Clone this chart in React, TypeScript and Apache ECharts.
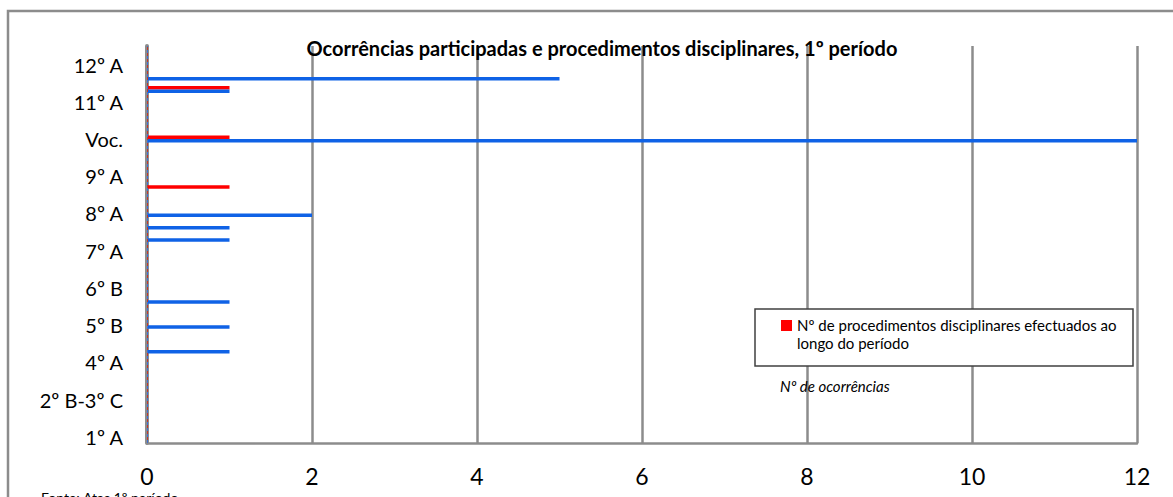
import React, { useEffect, useRef } from "react";
import * as echarts from "echarts";

// 32 category slots (bottom to top); only every third carries a label
const slotLabels = [
  "1º A", "", "", "2º B-3º C", "", "", "4º A", "", "", "5º B", "", "",
  "6º B", "", "", "7º A", "", "", "8º A", "", "", "9º A", "", "",
  "Voc.", "", "", "11º A", "", "", "12º A", "",
];

// Nº de ocorrências (blue)
const ocorrencias = [
  0, 0, 0, 0, 0, 0, 0, 1, 0, 1, 0, 1,
  0, 0, 0, 0, 1, 1, 2, 0, 0, 0, 0, 0,
  12, 0, 0, 0, 1, 5, 0, 0,
];

// Nº de procedimentos disciplinares (red)
const procedimentos = [
  0, 0, 0, 0, 0, 0, 0, 0, 0, 0, 0, 0,
  0, 0, 0, 0, 0, 0, 0, 0, 1, 0, 0, 0,
  1, 0, 0, 0, 1, 0, 0, 0,
];

const xTicks = { min: 0, max: 12, interval: 2 };

const titleText = "Ocorrências participadas e procedimentos disciplinares, 1º período";
const legendRed = "Nº de procedimentos disciplinares efectuados ao\nlongo do período";
const legendBlue = "Nº de ocorrências";
const sourceText = "Fonte: Atas 1º período";

const FONT = "Lato";
const BLUE = "#0F62E6";
const RED = "#FF0000";
const GRID = "#8C8C8C";

export default function App() {
  const ref = useRef<HTMLDivElement>(null);
  useEffect(() => {
    if (!ref.current) return;
    const chart = echarts.init(ref.current, null, { renderer: "svg" });
    chart.setOption({
      animation: false,
      backgroundColor: "#fff",
      textStyle: { fontFamily: FONT },
      title: {
        text: titleText,
        left: 597,
        textAlign: "center",
        top: 33,
        textStyle: { fontFamily: FONT, fontSize: 20, fontWeight: "bold", color: "#000" },
      },
      grid: { left: 147, right: 36, top: 46, bottom: 54, containLabel: false },
      xAxis: {
        type: "value",
        min: xTicks.min,
        max: xTicks.max,
        interval: xTicks.interval,
        axisLine: { show: true, lineStyle: { color: GRID, width: 2.5 } },
        axisTick: { show: false },
        axisLabel: { fontFamily: FONT, fontSize: 23, color: "#000", margin: 21 },
        splitLine: { show: true, lineStyle: { color: GRID, width: 2.5 } },
      },
      yAxis: {
        type: "category",
        data: slotLabels,
        axisLine: { show: true, lineStyle: { color: GRID, width: 4 } },
        axisTick: { show: false },
        axisLabel: {
          interval: 2,
          fontFamily: FONT,
          fontSize: 20,
          color: "#000",
          margin: 24,
          padding: [6, 0, 0, 0],
        },
        splitLine: { show: false },
      },
      series: [
        {
          name: legendRed,
          type: "bar",
          data: procedimentos,
          barWidth: 3.5,
          barGap: "0%",
          itemStyle: { color: RED },
          markLine: {
            silent: true,
            symbol: "none",
            label: { show: false },
            lineStyle: { color: "#C0392B", width: 1, type: [3, 3], dashOffset: 3 },
            data: [{ xAxis: 0 }],
          },
        },
        {
          name: legendBlue,
          type: "bar",
          data: ocorrencias,
          barWidth: 3.5,
          barGap: "0%",
          itemStyle: { color: BLUE },
          markLine: {
            silent: true,
            symbol: "none",
            label: { show: false },
            lineStyle: { color: "#3D6FD1", width: 1, type: [3, 3] },
            data: [{ xAxis: 0 }],
          },
        },
      ],
      graphic: [
        {
          type: "rect",
          shape: { x: 8, y: 11, width: 1300, height: 700 },
          style: { fill: "none", stroke: GRID, lineWidth: 2.5 },
          silent: true,
          z: -10,
        },
        {
          type: "rect",
          shape: { x: 755, y: 309, width: 378, height: 57 },
          style: { fill: "#fff", stroke: "#404040", lineWidth: 1.5 },
          z: 10,
        },
        {
          type: "rect",
          shape: { x: 781, y: 320, width: 11, height: 11 },
          style: { fill: RED },
          z: 11,
        },
        {
          type: "text",
          x: 797,
          y: 316,
          style: {
            text: legendRed,
            fontFamily: FONT,
            fontSize: 15,
            lineHeight: 18,
            fill: "#000",
          },
          z: 11,
        },
        {
          type: "text",
          x: 780,
          y: 378,
          style: { text: legendBlue, fontFamily: FONT, fontSize: 15, fontStyle: "italic", fill: "#000" },
          z: 11,
        },
        {
          type: "text",
          x: 41,
          y: 490,
          style: { text: sourceText, fontFamily: FONT, fontSize: 14, fill: "#000" },
          z: 11,
        },
      ],
    });
    return () => chart.dispose();
  }, []);
  return (
    <div
      ref={ref}
      style={{ position: "fixed", left: 0, top: 0, width: 1173, height: 497 }}
    />
  );
}
